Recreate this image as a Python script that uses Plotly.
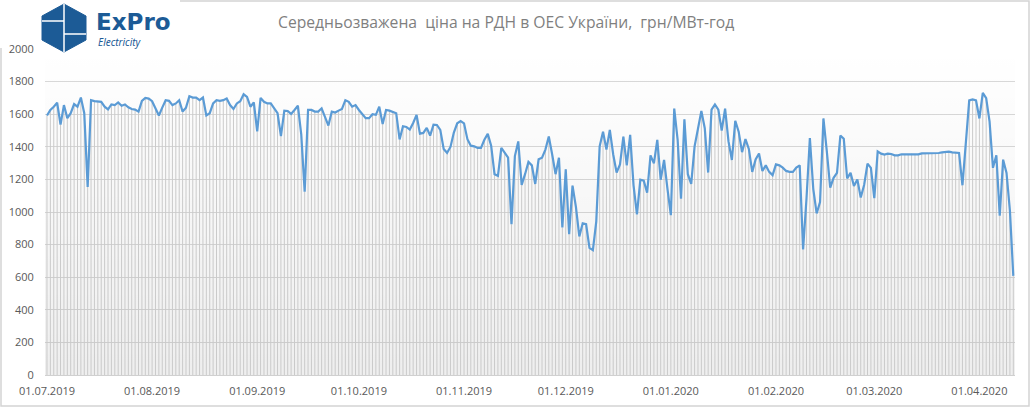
import plotly.graph_objects as go
import pandas as pd

start_date = "2019-07-01"

# daily weighted average DAM price, UAH/MWh (01.07.2019 - 11.04.2020)
jul_2019 = [1592, 1626, 1646, 1670, 1536, 1656, 1576, 1606, 1662, 1646, 1702, 1606, 1154, 1686, 1680, 1678,
            1676, 1646, 1630, 1660, 1656, 1672, 1652, 1660, 1642, 1632, 1628, 1616, 1682, 1700, 1696]
aug_2019 = [1680, 1636, 1592, 1640, 1686, 1682, 1656, 1666, 1686, 1616, 1640, 1710, 1702, 1702, 1686, 1702,
            1592, 1606, 1666, 1686, 1682, 1686, 1696, 1656, 1632, 1666, 1680, 1722, 1706, 1646, 1672]
sep_2019 = [1495, 1700, 1676, 1666, 1666, 1636, 1606, 1465, 1622, 1620, 1602, 1626, 1652, 1475, 1124, 1626,
            1626, 1616, 1616, 1636, 1580, 1530, 1616, 1610, 1622, 1632, 1686, 1676, 1646, 1656]
oct_2019 = [1626, 1600, 1576, 1576, 1600, 1596, 1646, 1540, 1626, 1622, 1616, 1606, 1445, 1526, 1522, 1506,
            1546, 1596, 1481, 1485, 1516, 1469, 1536, 1534, 1504, 1387, 1363, 1399, 1487, 1544, 1558]
nov_2019 = [1544, 1447, 1407, 1403, 1393, 1393, 1443, 1479, 1407, 1232, 1222, 1393, 1363, 1333, 925, 1343,
            1433, 1166, 1232, 1307, 1286, 1172, 1323, 1333, 1383, 1463, 1353, 1232, 1333, 905]
dec_2019 = [1262, 864, 1162, 1031, 850, 931, 925, 780, 766, 941, 1403, 1493, 1383, 1504, 1353, 1242,
            1292, 1463, 1286, 1473, 1162, 985, 1198, 1192, 1118, 1347, 1298, 1443, 1198, 1319, 1142]
jan_2020 = [981, 1634, 1443, 1081, 1568, 1232, 1172, 1403, 1514, 1620, 1514, 1242, 1628, 1660, 1628, 1500,
            1634, 1433, 1319, 1560, 1493, 1367, 1447, 1387, 1246, 1323, 1359, 1252, 1286, 1246, 1226]
feb_2020 = [1292, 1286, 1272, 1252, 1246, 1246, 1272, 1286, 770, 1081, 1453, 1142, 991, 1061, 1574, 1372,
            1150, 1210, 1240, 1469, 1449, 1206, 1240, 1160, 1200, 1089, 1166, 1297, 1271]
mar_2020 = [1085, 1372, 1358, 1352, 1358, 1356, 1348, 1348, 1354, 1354, 1356, 1358, 1354, 1354, 1360, 1360,
            1360, 1362, 1360, 1362, 1366, 1368, 1370, 1366, 1366, 1362, 1164, 1420, 1685, 1691, 1685]
apr_2020 = [1574, 1731, 1699, 1554, 1271, 1348, 978, 1321, 1240, 1008, 608]

prices = jul_2019 + aug_2019 + sep_2019 + oct_2019 + nov_2019 + dec_2019 + jan_2020 + feb_2020 + mar_2020 + apr_2020
dates = pd.date_range(start_date, periods=len(prices), freq="D")

y_ticks = [0, 200, 400, 600, 800, 1000, 1200, 1400, 1600, 1800, 2000]
title = "Середньозважена  ціна на РДН в ОЕС України,  грн/МВт-год"

W, H = 1030, 407
L, R, T, B = 45, 15, 49, 32
PW, PH = W - L - R, H - T - B


def px(x):
    return (x - L) / PW


def py(y):
    return (H - B - y) / PH


x_range = [dates[0] - pd.Timedelta(hours=14), dates[-1] + pd.Timedelta(hours=12)]

fig = go.Figure()

# plot-area gradient
fig.add_trace(go.Scatter(
    x=x_range, y=[y_ticks[-1], y_ticks[-1]], mode="lines", line=dict(width=0),
    fill="tozeroy",
    fillgradient=dict(type="vertical", start=0, stop=y_ticks[-1],
                      colorscale=[[0, "rgba(0,0,0,0.065)"], [1, "rgba(0,0,0,0)"]]),
    hoverinfo="skip", showlegend=False))

# drop lines
xd, yd = [], []
for d, v in zip(dates, prices):
    xd += [d, d, None]
    yd += [0, v, None]
fig.add_trace(go.Scatter(x=xd, y=yd, mode="lines", line=dict(color="#cacaca", width=1),
                         hoverinfo="skip", showlegend=False))

fig.add_trace(go.Scatter(x=dates, y=prices, mode="lines",
                         line=dict(color="#5b9bd5", width=2.2), showlegend=False))

tick_font = dict(family="Open Sans", size=11, color="#595959")

fig.update_xaxes(range=x_range, automargin=False,
                 tick0=start_date, dtick="M1", tickformat="%d.%m.%Y", showgrid=False,
                 ticks="outside", ticklen=6, tickcolor="rgba(0,0,0,0)", tickfont=tick_font,
                 showline=False, zeroline=False)
fig.update_yaxes(range=[0, 2000], tickvals=y_ticks, automargin=False,
                 showgrid=True, gridcolor="#d9d9d9", gridwidth=1,
                 ticks="outside", ticklen=8, tickcolor="rgba(0,0,0,0)", tickfont=tick_font,
                 zeroline=True, zerolinecolor="#d0d0d0", zerolinewidth=1)

# outer border
border = "M {},{} L {},{} L {},{} L {},{} L {},{}".format(
    px(180), py(1), px(W - 1), py(1), px(W - 1), py(H - 1), px(1), py(H - 1), px(1), py(48))
shapes = [dict(type="path", xref="paper", yref="paper", path=border,
               line=dict(color="#d4d4d4", width=1.5))]

# logo hexagon
hx = [(64, 4), (86, 16), (86, 40), (64, 52), (42, 40), (42, 16)]
hpath = "M " + " L ".join("{},{}".format(px(a), py(b)) for a, b in hx) + " Z"
shapes.append(dict(type="path", xref="paper", yref="paper", path=hpath,
                   fillcolor="#1c5b96", line=dict(color="#1c5b96", width=1)))
for x0, y0, x1, y1 in [(64, 4, 64, 52), (42, 21, 64, 21), (64, 34, 86, 34)]:
    shapes.append(dict(type="line", xref="paper", yref="paper", x0=px(x0), y0=py(y0), x1=px(x1), y1=py(y1),
                       line=dict(color="white", width=1.5)))

annotations = [
    dict(text=title, xref="paper", yref="paper", x=px(506), y=py(22), xanchor="center", yanchor="middle",
         showarrow=False, font=dict(family="Open Sans", size=15.7, color="#7f7f7f")),
    dict(text="ExPro", xref="paper", yref="paper", x=px(94), y=py(22), xanchor="left", yanchor="middle",
         showarrow=False, font=dict(family="DejaVu Sans", size=23, color="#1c5b96", weight="bold")),
    dict(text="<i>Electricity</i>", xref="paper", yref="paper", x=px(96), y=py(42), xanchor="left",
         yanchor="middle", showarrow=False, font=dict(family="Noto Sans", size=10, color="#1c5b96")),
]

fig.update_layout(width=W, height=H, margin=dict(l=L, r=R, t=T, b=B),
                  paper_bgcolor="white", plot_bgcolor="white",
                  shapes=shapes, annotations=annotations, showlegend=False)

fig.write_html("out.html", config={"displayModeBar": False},
               post_script="document.body.style.margin='0';")
